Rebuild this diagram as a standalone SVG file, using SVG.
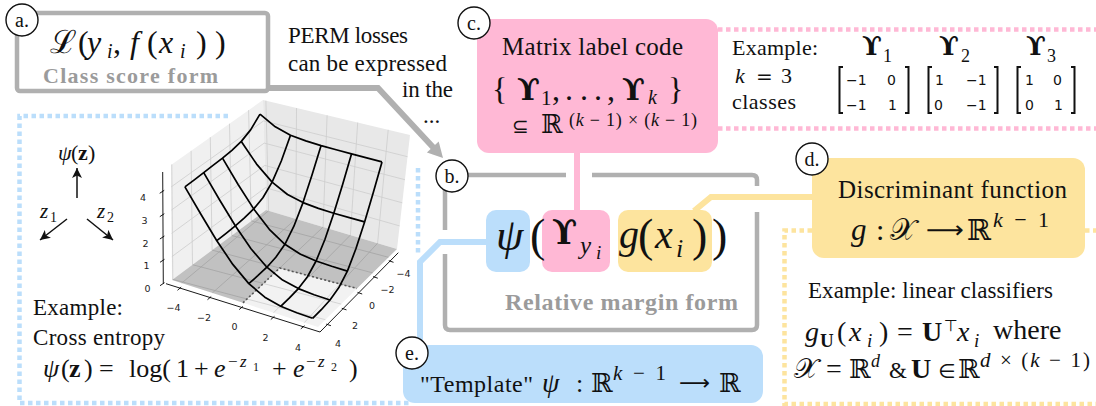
<svg xmlns="http://www.w3.org/2000/svg" width="1096" height="406" viewBox="0 0 1096 406">
<defs>
<style>
text{font-family:'Liberation Serif','DejaVu Serif',serif;fill:#111;}
.i{font-style:italic;}
.b{font-weight:bold;}
.dv{font-family:'DejaVu Serif','Liberation Serif',serif;}
.dvs{font-family:'DejaVu Sans','Liberation Sans',sans-serif;}
.gt{fill:#9b9b9b;font-weight:bold;}
.gb{fill:none;stroke:#b0b0b0;stroke-width:4.5;}
.lc{fill:#fff;stroke:#111;stroke-width:1.4;}
.lt{font-size:20px;text-anchor:middle;}
.dot{fill:none;stroke-width:4.5;stroke-dasharray:4.5 3.5;}
.pink{fill:#ffb8d5;}
.blue{fill:#bbdefb;}
.yel{fill:#fde49e;}
.grid{stroke:#cdcdcd;stroke-width:0.8;fill:none;}
.wire{fill:none;stroke:#000;stroke-width:1.7;stroke-linejoin:round;}
.tk{font-family:'DejaVu Sans',sans-serif;font-size:9.5px;text-anchor:middle;fill:#222;}
.ax{stroke:#000;stroke-width:0.9;fill:none;}
.con{fill:none;stroke-width:6;}
.mx{font-family:'DejaVu Sans',sans-serif;font-size:14px;}
.br{fill:none;stroke:#111;stroke-width:2;}
.arr{stroke:#111;stroke-width:1.5;fill:none;}
</style>
<marker id="ah" markerUnits="userSpaceOnUse" markerWidth="12" markerHeight="12" refX="10" refY="5" orient="auto"><path d="M0,0 L10,5 L0,10 L2.5,5 z" fill="#111"/></marker>
</defs>
<rect width="1096" height="406" fill="#fff"/>

<!-- dotted frames -->
<g id="frames">
<path class="dot" stroke="#bbdefb" d="M228,116 H19.5 V403 H410 M418,168 V256"/>
<path class="dot" stroke="#ffb8d5" d="M718,29.5 H1096 M718,128.5 H1096"/>
<path class="dot" stroke="#fde49e" d="M812,230.5 H784.5 V404 H1096 M1085,230.5 H1096"/>
</g>

<!-- 3D plot -->
<g id="plot">
<polygon points="172,280 266,210 263,100 171,165" fill="#f0f0f0"/>
<polygon points="266,210 397,249 410,135 263,100" fill="#e8e8e8"/>
<polygon points="172,280 266,210 397,249 318,327" fill="#f2f2f2"/>
<path class="grid" d="M251.3,220.9 L248.6,110.1 M231.8,235.5 L229.5,123.7 M212.1,250.1 L210.3,137.2 M192.5,264.7 L191.1,150.8 M172.8,279.4 L171.8,164.4
M171.8,256.7 L265.4,187.7 M171.6,233.4 L264.8,165.4 M171.4,210.1 L264.2,143.1 M171.2,186.9 L263.6,120.9
M268.6,210.8 L265.9,100.7 M295.9,218.9 L296.5,108.0 M323.1,227.0 L327.1,115.3 M350.4,235.1 L357.7,122.5 M377.6,243.2 L388.2,129.8
M265.4,187.7 L399.6,225.9 M264.8,165.4 L402.3,202.8 M264.2,143.1 L404.9,179.7 M263.6,120.9 L407.5,156.7
M268.6,210.8 L181.6,283.1 M295.9,218.9 L212.3,293.0 M323.1,227.0 L243.0,302.8 M350.4,235.1 L273.6,312.7 M377.6,243.2 L304.3,322.6
M251.3,220.9 L388.6,257.3 M231.8,235.5 L372.8,272.9 M212.1,250.1 L357.0,288.5 M192.5,264.7 L341.2,304.1 M172.8,279.4 L325.4,319.7"/>
<polygon points="172,280 266,210 397,249 357,288.5 279.7,268 243,302.8" fill="#000" fill-opacity="0.2"/>
<polyline points="243,302.8 279.7,268 357,288.5" fill="none" stroke="#555" stroke-width="1.6" stroke-dasharray="2 2.2"/>
<path class="ax" d="M166,283.7 L320,332 L398.3,252.7 M163.3,283.7 L162.7,172"/>
<path class="ax" d="M181.2,287.1 L177.5,290.3 M211.2,296.5 L207.5,299.7 M242.9,306.4 L239.2,309.6 M274.5,316.3 L270.8,319.5 M304.5,325.7 L300.8,328.9
M388.8,260.7 L393.5,262.3 M373.1,276.6 L377.8,278.2 M357.5,292.4 L362.2,294.0 M341.8,308.3 L346.5,309.9 M326.2,324.1 L330.9,325.7
M164.5,282.7 L160,285.7 M164.5,259.3 L160,262.3 M164.4,236 L159.9,239 M164.3,213.7 L159.8,216.7 M164.2,190.3 L159.7,193.3"/>
<text class="tk" x="173.5" y="311">−4</text>
<text class="tk" x="204" y="320.7">−2</text>
<text class="tk" x="234.5" y="330">0</text>
<text class="tk" x="265.5" y="340.7">2</text>
<text class="tk" x="298" y="350.7">4</text>
<text class="tk" x="403.5" y="276.7">−4</text>
<text class="tk" x="387.5" y="292.7">−2</text>
<text class="tk" x="372" y="309">0</text>
<text class="tk" x="355" y="329">2</text>
<text class="tk" x="338" y="346.7">4</text>
<text class="tk" x="147.5" y="292">0</text>
<text class="tk" x="146.5" y="269">1</text>
<text class="tk" x="145.5" y="246.5">2</text>
<text class="tk" x="144.5" y="224">3</text>
<text class="tk" x="143" y="201">4</text>
<polyline class="wire" points="260.0,114.1 275.3,126.8 290.5,135.2 305.8,140.9 321.1,145.6 336.2,149.8 351.5,153.9 366.7,157.9 382.0,161.9"/>
<polyline class="wire" points="241.3,141.4 256.6,164.1 272.1,182.1 287.5,194.5 303.0,202.6 318.4,208.4 333.8,213.3 349.3,217.6 364.6,221.9"/>
<polyline class="wire" points="222.5,158.1 238.1,184.5 253.7,208.9 269.3,229.3 284.9,244.3 300.5,254.2 316.1,261.0 331.7,266.3 347.4,271.1"/>
<polyline class="wire" points="203.7,172.6 219.5,199.8 235.3,225.8 251.0,248.8 266.9,267.2 282.6,280.1 298.4,288.6 314.1,294.7 330.0,300.0"/>
<polyline class="wire" points="184.9,186.9 200.9,214.3 216.8,240.7 232.8,264.4 248.8,283.6 264.8,297.2 280.7,306.3 296.7,312.8 312.6,318.3"/>
<polyline class="wire" points="260.0,114.1 250.6,129.9 241.3,141.4 231.9,150.3 222.5,158.1 213.0,165.4 203.7,172.6 194.3,179.8 184.9,186.9"/>
<polyline class="wire" points="290.5,135.2 281.3,161.0 272.1,182.1 262.9,197.7 253.7,208.9 244.4,217.8 235.3,225.8 226.1,233.3 216.8,240.7"/>
<polyline class="wire" points="321.1,145.6 312.0,175.1 303.0,202.6 293.9,226.2 284.9,244.3 275.8,257.3 266.9,267.2 257.8,275.7 248.8,283.6"/>
<polyline class="wire" points="351.5,153.9 342.7,184.2 333.8,213.3 324.9,239.5 316.1,261.0 307.3,277.0 298.4,288.6 289.5,297.9 280.7,306.3"/>
<polyline class="wire" points="382.0,161.9 373.3,192.4 364.6,221.9 355.9,248.8 347.4,271.1 338.7,287.8 330.0,300.0 321.3,309.7 312.6,318.3"/>
</g>

<!-- axes legend and example -->
<g id="psi-example">
<text y="160" font-size="22"><tspan class="i" x="58">ψ</tspan><tspan x="71">(</tspan><tspan class="b" x="78">z</tspan><tspan x="88">)</tspan></text>
<path class="arr" d="M77,198 V168" marker-end="url(#ah)"/>
<path class="arr" d="M67,219 L40,240" marker-end="url(#ah)"/>
<path class="arr" d="M87,219 L113,240" marker-end="url(#ah)"/>
<text class="i" x="40" y="218" font-size="21">z</text><text x="50" y="222" font-size="14">1</text>
<text class="i" x="97" y="218" font-size="21">z</text><text x="107" y="222" font-size="14">2</text>
<text x="33" y="315" font-size="23" textLength="90">Example:</text>
<text x="33" y="345" font-size="23" textLength="132">Cross entropy</text>
<text y="377" font-size="26"><tspan class="i" x="43">ψ</tspan><tspan x="61">(</tspan><tspan class="b" x="69">z</tspan><tspan x="84">)</tspan><tspan x="99">=</tspan><tspan x="129">log(</tspan><tspan x="176">1</tspan><tspan x="194">+</tspan><tspan class="i" x="214">e</tspan><tspan x="272">+</tspan><tspan class="i" x="293">e</tspan><tspan x="349">)</tspan></text>
<text y="367" font-size="17"><tspan x="228">−</tspan><tspan class="i" x="240">z</tspan><tspan x="306">−</tspan><tspan class="i" x="318">z</tspan></text>
<text y="371" font-size="12"><tspan x="253">1</tspan><tspan x="331">2</tspan></text>
</g>

<!-- connectors -->
<g id="connectors">
<path class="con" stroke="#b0b0b0" d="M268,88 H378 L434,148.3"/>
<polygon points="443,158 426.9,152.4 438.7,141.6" fill="#b0b0b0"/>
<path class="con" stroke="#ffb8d5" d="M577,152 V211"/>
<path class="con" stroke="#fde49e" d="M694,211 L711,197 H813"/>
<path class="con" stroke="#bbdefb" d="M487,242 H440 L420,262 V347"/>
</g>

<!-- a -->
<g id="node-a">
<rect x="17" y="13" width="251" height="78" rx="3" fill="#fff" class="gb"/>
<text y="53" font-size="32"><tspan class="dv" x="50">ℒ</tspan><tspan x="78">(</tspan><tspan class="i" x="87">y</tspan><tspan class="i" x="107" y="58" font-size="20">i</tspan><tspan x="113" y="53">,</tspan><tspan class="i" x="130">f</tspan><tspan x="147">(</tspan><tspan class="i" x="159">x</tspan><tspan class="i" x="180" y="58" font-size="20">i</tspan><tspan x="196" y="53">)</tspan><tspan x="215">)</tspan></text>
<text x="43" y="83" font-size="22" class="gt" textLength="175">Class score form</text>
<circle cx="22" cy="20" r="16" class="lc"/><text class="lt" x="22" y="27">a.</text>
</g>

<g id="perm-text">
<text x="288" y="43" font-size="23" textLength="120">PERM losses</text>
<text x="288" y="71" font-size="23" textLength="159">can be expressed</text>
<text x="402" y="97" font-size="23" textLength="51">in the</text>
<text x="423" y="123" font-size="23">...</text>
</g>

<!-- c -->
<g id="node-c">
<rect x="477" y="19" width="241" height="134" rx="12" class="pink"/>
<text x="502" y="55" font-size="25" textLength="181">Matrix label code</text>
<text x="492" y="100" font-size="32">{</text>
<text class="dv b" x="517" y="100" font-size="30">ϒ</text>
<text x="541" y="105" font-size="21">1</text>
<text x="552 565 580 594 607" y="100" font-size="32">,...,</text>
<text class="dv b" x="622" y="100" font-size="30">ϒ</text>
<text class="i" x="648" y="104" font-size="20">k</text>
<text x="668" y="100" font-size="32">}</text>
<text class="dvs" x="512" y="133" font-size="20">⊆</text>
<text class="dv" x="541" y="133" font-size="26">ℝ</text>
<text x="569" y="126" font-size="18" textLength="128">(<tspan class="i">k</tspan> − 1) × (<tspan class="i">k</tspan> − 1)</text>
<circle cx="474" cy="23" r="16" class="lc"/><text class="lt" x="474" y="30">c.</text>
</g>

<g id="example-c">
<text x="732" y="55" font-size="22" textLength="86">Example:</text>
<text class="i" x="735" y="83" font-size="22">k</text>
<text class="dvs" x="756" y="83" font-size="20">=</text>
<text x="781" y="83" font-size="22">3</text>
<text x="732" y="109" font-size="22" textLength="64">classes</text>
<text class="dv b" x="862" y="55" font-size="26">ϒ</text><text x="883" y="62" font-size="18">1</text>
<text class="dv b" x="939" y="55" font-size="26">ϒ</text><text x="961" y="62" font-size="18">2</text>
<text class="dv b" x="1026" y="55" font-size="26">ϒ</text><text x="1047" y="62" font-size="18">3</text>
<text class="mx" x="846" y="85">−1</text><text class="mx" x="887" y="85">0</text>
<text class="mx" x="846" y="110">−1</text><text class="mx" x="888" y="110">1</text>
<text class="mx" x="935" y="85">1</text><text class="mx" x="966" y="85">−1</text>
<text class="mx" x="934" y="110">0</text><text class="mx" x="966" y="110">−1</text>
<text class="mx" x="1025" y="85">1</text><text class="mx" x="1053" y="85">0</text>
<text class="mx" x="1025" y="110">0</text><text class="mx" x="1054" y="110">1</text>
<path class="br" d="M843,67 H839.5 V113 H843 M905,67 H908.5 V113 H905 M932,67 H928.5 V113 H932 M994,67 H997.5 V113 H994 M1021,67 H1017.5 V113 H1021 M1071,67 H1074.5 V113 H1071"/>
</g>

<!-- b -->
<g id="node-b">
<path class="gb" d="M445,230 V180 Q445,175 450,175 H566 M592,175 H752 Q757,175 757,180 V186 M757,212 V325 Q757,330 752,330 H450 Q445,330 445,325 V254"/>
<rect x="486" y="210" width="44" height="62" rx="10" class="blue"/>
<rect x="542" y="210" width="68" height="62" rx="10" class="pink"/>
<rect x="618" y="210" width="94" height="62" rx="10" class="yel"/>
<text class="i" x="496" y="250" font-size="44">ψ</text>
<text x="530" y="251" font-size="46">(</text>
<text class="dv b" x="552" y="244" font-size="33">ϒ</text>
<text class="i" x="580" y="254" font-size="25">y</text>
<text class="i" x="596" y="259" font-size="19">i</text>
<text class="i" x="619" y="248" font-size="40">g</text>
<text x="638" y="251" font-size="46">(</text>
<text class="i" x="655" y="248" font-size="40">x</text>
<text class="i" x="676" y="257" font-size="26">i</text>
<text x="692" y="251" font-size="46">)</text>
<text x="712" y="251" font-size="46">)</text>
<text x="505" y="310" font-size="24" class="gt" textLength="233">Relative margin form</text>
<circle cx="452" cy="176" r="16" class="lc"/><text class="lt" x="452" y="183">b.</text>
</g>

<!-- d -->
<g id="node-d">
<rect x="812" y="158" width="273" height="100" rx="12" class="yel"/>
<text x="838" y="198" font-size="25" textLength="229">Discriminant function</text>
<text class="i" x="851" y="240" font-size="31">g</text>
<text x="876" y="240" font-size="30">:</text>
<text class="dv" x="890" y="240" font-size="30">𝒳</text>
<text class="dvs" x="926" y="238" font-size="24" textLength="38" lengthAdjust="spacingAndGlyphs">⟶</text>
<text class="dv" x="967" y="240" font-size="29">ℝ</text>
<text x="993" y="227" font-size="22" textLength="56"><tspan class="i">k</tspan> − 1</text>
<circle cx="812" cy="159" r="16" class="lc"/><text class="lt" x="812" y="166">d.</text>
</g>

<g id="example-d">
<text x="808" y="298" font-size="23" textLength="245">Example: linear classifiers</text>
<text class="i" x="805" y="341" font-size="28">g</text>
<text class="b" x="820" y="347" font-size="19">U</text>
<text x="837" y="341" font-size="28">(</text>
<text class="i" x="849" y="341" font-size="28">x</text>
<text class="i" x="867" y="347" font-size="19">i</text>
<text x="879" y="341" font-size="28">)</text>
<text x="897" y="341" font-size="28">=</text>
<text class="b" x="922" y="341" font-size="28">U</text>
<text class="dvs" x="944" y="331" font-size="16">⊤</text>
<text class="i" x="957" y="341" font-size="28">x</text>
<text class="i" x="974" y="347" font-size="19">i</text>
<text x="993" y="339" font-size="28">where</text>
<text class="dv" x="794" y="378" font-size="28">𝒳</text>
<text x="826" y="378" font-size="28">=</text>
<text class="dv" x="849" y="378" font-size="26">ℝ</text>
<text class="i" x="871" y="367" font-size="18">d</text>
<text x="889" y="378" font-size="23">&amp;</text>
<text class="b" x="911" y="378" font-size="28">U</text>
<text class="dvs" x="938" y="378" font-size="20">∈</text>
<text class="dv" x="958" y="378" font-size="26">ℝ</text>
<text x="980" y="367" font-size="21" textLength="110"><tspan class="i">d</tspan> × (<tspan class="i">k</tspan> − 1)</text>
</g>

<!-- e -->
<g id="node-e">
<rect x="403" y="345" width="360" height="58" rx="12" class="blue"/>
<text x="420" y="392" font-size="24" textLength="113">"Template"</text>
<text class="i" x="542" y="392" font-size="28">ψ</text>
<text x="576" y="392" font-size="26">:</text>
<text class="dv" x="591" y="392" font-size="26">ℝ</text>
<text x="613" y="380" font-size="21" textLength="53"><tspan class="i">k</tspan> − 1</text>
<text class="dvs" x="679" y="390" font-size="21" textLength="31" lengthAdjust="spacingAndGlyphs">⟶</text>
<text class="dv" x="719" y="392" font-size="26">ℝ</text>
<circle cx="412" cy="353" r="16" class="lc"/><text class="lt" x="412" y="360">e.</text>
</g>
</svg>
